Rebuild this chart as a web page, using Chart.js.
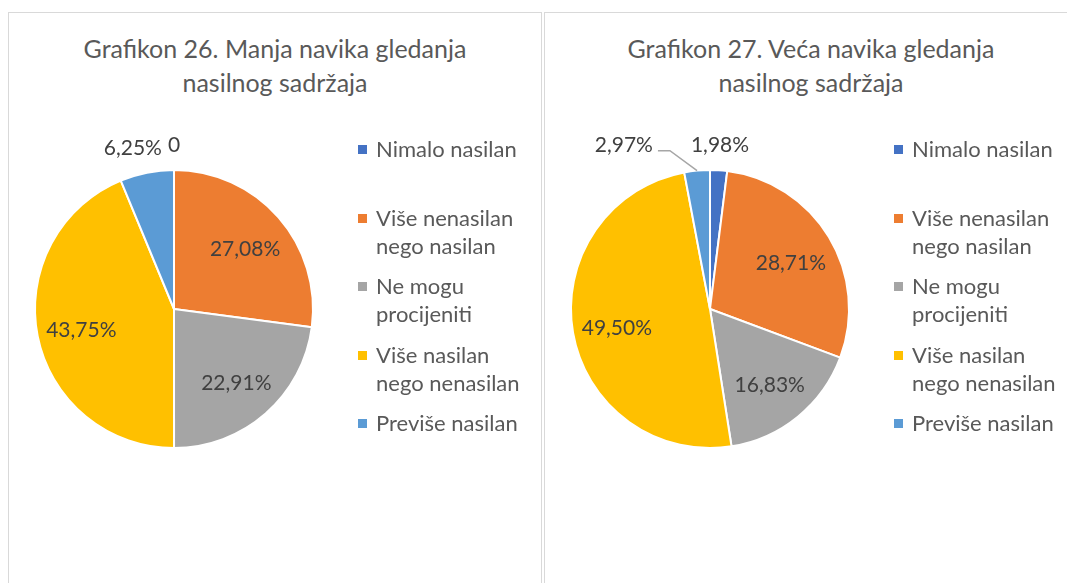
<!DOCTYPE html>
<html>
<head>
<meta charset="utf-8">
<script src="https://cdn.jsdelivr.net/npm/chart.js@4.4.1/dist/chart.umd.min.js"></script>
<style>
  html, body { margin: 0; padding: 0; background: #fff; width: 1067px; height: 583px; overflow: hidden; }
  body { font-family: Lato, "Open Sans", sans-serif; }
  .panel { position: absolute; top: 12px; width: 534px; height: 610px; border: 1px solid #d9d9d9; box-sizing: border-box; }
  #panel26 { left: 8px; }
  #panel27 { left: 544px; }
  .panel canvas { position: absolute; left: 0; top: 0; }
  .title { position: absolute; left: 0; right: 0; top: 18px; text-align: center; color: #595959; font-size: 25px; line-height: 34px; }
  .legend { position: absolute; left: 349px; top: 0; }
  .legend .item { position: absolute; left: 0; white-space: nowrap; color: #595959; font-size: 22px; line-height: 28px; }
  .legend .sw { position: absolute; left: 0; top: 10px; width: 9px; height: 9px; }
  .legend .txt { position: absolute; left: 18px; top: 0; }
</style>
</head>
<body>
<div class="panel" id="panel26">
  <div class="title" id="title26"></div>
  <canvas id="chart26" width="532" height="600"></canvas>
  <div class="legend" id="legend26"></div>
</div>
<div class="panel" id="panel27">
  <div class="title" id="title27"></div>
  <canvas id="chart27" width="532" height="600"></canvas>
  <div class="legend" id="legend27"></div>
</div>
<script>
  // categories, each split in the lines used by the legend
  const categories = [
    ["Nimalo nasilan"],
    ["Više nenasilan", "nego nasilan"],
    ["Ne mogu", "procijeniti"],
    ["Više nasilan", "nego nenasilan"],
    ["Previše nasilan"],
  ];
  const colors = ["#4472C4", "#ED7D31", "#A5A5A5", "#FFC000", "#5B9BD5"];

  const title26 = ["Grafikon 26. Manja navika gledanja", "nasilnog sadržaja"];
  const values26 = [0, 27.08, 22.91, 43.75, 6.25];

  const title27 = ["Grafikon 27. Veća navika gledanja", "nasilnog sadržaja"];
  const values27 = [1.98, 28.71, 16.83, 49.5, 2.97];

  function fmtPct(v) {
    if (v === 0) return "0";
    return v.toFixed(2).replace(".", ",") + "%";
  }

  // excel-like data labels: inside for big slices, outside (with leader if pushed) for small ones
  const pieLabels = {
    id: "pieLabels",
    afterDatasetsDraw(chart) {
      const ctx = chart.ctx;
      const meta = chart.getDatasetMeta(0);
      const vals = chart.data.datasets[0].data;
      const total = vals.reduce((a, b) => a + b, 0);
      const placed = [];
      ctx.save();
      ctx.font = "21px Lato, 'Open Sans', sans-serif";
      ctx.fillStyle = "#404040";
      ctx.textBaseline = "middle";
      ctx.textAlign = "center";
      meta.data.forEach((arc, i) => {
        const p = arc.getProps(["x", "y", "startAngle", "endAngle", "outerRadius"], true);
        const mid = (p.startAngle + p.endAngle) / 2;
        const txt = fmtPct(vals[i]);
        const w = ctx.measureText(txt).width;
        if (vals[i] / total > 0.1) {
          const r = p.outerRadius * 0.68;
          ctx.fillText(txt, p.x + Math.cos(mid) * r, p.y + Math.sin(mid) * r + 3);
          return;
        }
        const r = p.outerRadius + 22;
        let x = p.x + Math.cos(mid) * r;
        const y = p.y + Math.sin(mid) * r - 3;
        let shift = 0;
        placed.forEach((b) => {
          const l = x - w / 2, rr = x + w / 2;
          if (rr > b.l && l < b.r && Math.abs(y - b.y) < 22) {
            shift = x < b.x ? rr - b.l + 6 : -(b.r - l + 6);
          }
        });
        let leader = false;
        if (Math.abs(shift) > 20) {
          shift += shift > 0 ? 32 : -32;
          leader = true;
        }
        x -= shift;
        ctx.fillText(txt, x, y);
        placed.push({ x: x, y: y, l: x - w / 2, r: x + w / 2 });
        if (leader) {
          const ex = p.x + Math.cos(mid) * p.outerRadius;
          const ey = p.y + Math.sin(mid) * p.outerRadius;
          const sx = shift > 0 ? x + w / 2 + 5 : x - w / 2 - 5;
          const hx = shift > 0 ? sx + 12 : sx - 12;
          ctx.strokeStyle = "#a6a6a6";
          ctx.lineWidth = 1.5;
          ctx.beginPath();
          ctx.moveTo(sx, y + 5);
          ctx.lineTo(hx, y + 5);
          ctx.lineTo(ex, ey);
          ctx.stroke();
        }
      });
      ctx.restore();
    },
  };

  function buildLegend(el) {
    categories.forEach((lines, i) => {
      const item = document.createElement("div");
      item.className = "item";
      item.style.top = (122 + 68.5 * i) + "px";
      const sw = document.createElement("div");
      sw.className = "sw";
      sw.style.background = colors[i];
      const t = document.createElement("div");
      t.className = "txt";
      t.innerHTML = lines.join("<br>");
      item.appendChild(sw);
      item.appendChild(t);
      el.appendChild(item);
    });
  }

  function makePie(canvasId, titleId, legendId, titleLines, values) {
    document.getElementById(titleId).innerHTML = titleLines.join("<br>");
    buildLegend(document.getElementById(legendId));
    return new Chart(document.getElementById(canvasId), {
      type: "pie",
      data: {
        labels: categories.map((c) => c.join(" ")),
        datasets: [{
          data: values,
          backgroundColor: colors,
          borderColor: "#ffffff",
          borderWidth: 2,
          hoverOffset: 0,
        }],
      },
      options: {
        responsive: false,
        animation: false,
        layout: { padding: { left: 25, right: 227, top: 156, bottom: 164 } },
        plugins: { legend: { display: false }, tooltip: { enabled: false }, title: { display: false } },
      },
      plugins: [pieLabels],
    });
  }

  makePie("chart26", "title26", "legend26", title26, values26);
  makePie("chart27", "title27", "legend27", title27, values27);
</script>
</body>
</html>
